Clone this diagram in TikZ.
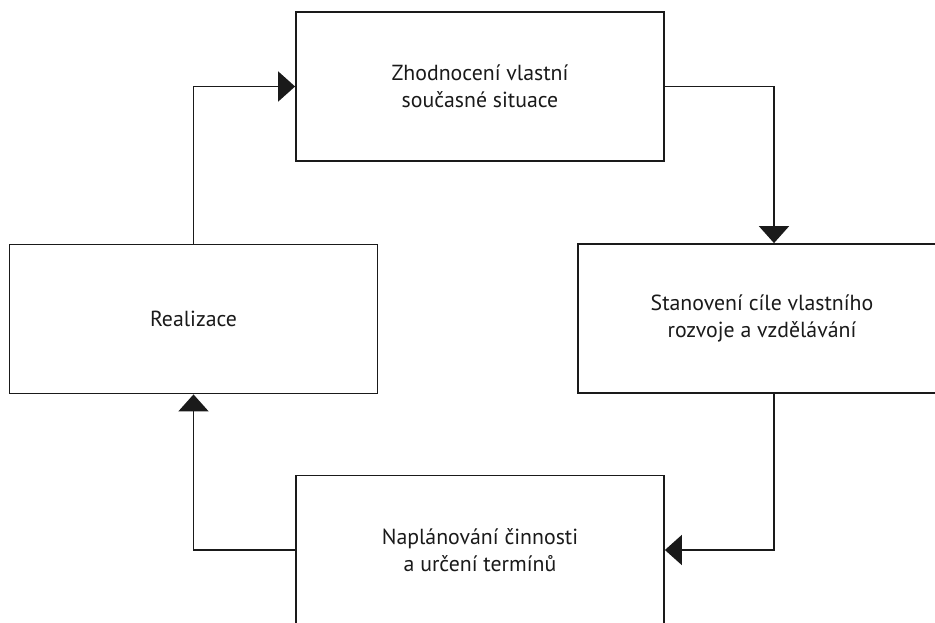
\documentclass[tikz,border=0pt]{standalone}
\usepackage{fontspec}
\setmainfont{PT Sans}
\usetikzlibrary{arrows.meta}
\definecolor{ink}{HTML}{1A1A1A}
\tikzset{
  stage/.style={draw=ink, line width=1.8pt, fill=white, minimum width=368pt,
    minimum height=149pt, align=center, text=ink, inner sep=0pt,
    font=\fontsize{21.8}{27.5}\selectfont},
  flow/.style={draw=ink, line width=1.8pt, -{Triangle[length=17pt,width=30pt]}}
}
\begin{document}
\begin{tikzpicture}[x=1pt,y=-1pt]
  \useasboundingbox (0,0) rectangle (935,623);
  \clip (0,0) rectangle (935,623);
  \node[stage] (eval) at (480,86.5) {Zhodnocení vlastní\\současné situace};
  \node[stage] (goal) at (762,318.5) {Stanovení cíle vlastního\\rozvoje a vzdělávání};
  \node[stage] (plan) at (480,550) {Naplánování činnosti\\a určení termínů};
  \node[stage] (real) at (193.5,319) {Realizace};
  \draw[flow] (eval.east) -| ([xshift=12pt]goal.north);
  \draw[flow] ([xshift=12pt]goal.south) |- (plan.east);
  \draw[flow] (plan.west) -| (real.south);
  \draw[flow] (real.north) |- (eval.west);
\end{tikzpicture}
\end{document}
